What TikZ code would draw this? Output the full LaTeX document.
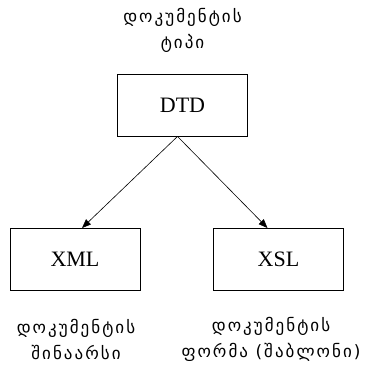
\documentclass[tikz,border=0pt]{standalone}
\usepackage{fontspec}
\setmainfont{Liberation Serif}
\newfontfamily\geofont[LetterSpace=12]{DejaVu Sans}
\usetikzlibrary{arrows.meta}
\tikzset{
  box/.style={draw, line width=0.9pt, minimum width=130pt, minimum height=62pt, inner sep=0pt, font=\fontsize{22}{22}\selectfont},
  geo/.style={align=center, inner sep=0pt, font=\geofont\fontsize{17}{26}\selectfont},
  conn/.style={line width=0.6pt, -{Triangle[length=9pt,width=7pt]}}
}
\begin{document}
\begin{tikzpicture}[x=1pt,y=-1pt]
\useasboundingbox (0,0) rectangle (372,366);
\node[box] (dtd) at (182.5,105) {DTD};
\node[box] (xml) at (75,259.5) {XML};
\node[box] (xsl) at (278.5,259.5) {XSL};
\node[geo] (t1) at (182.5,30) {დოკუმენტის\\ტიპი};
\node[geo] (t2) at (76,339.5) {დოკუმენტის\\შინაარსი};
\node[geo] (t3) at (271,339.5) {დოკუმენტის\\ფორმა (შაბლონი)};
\coordinate (apex) at ([xshift=-5pt]dtd.south);
\draw[conn] (apex) -- ([xshift=7pt]xml.north);
\draw[conn] (apex) -- ([xshift=-11pt]xsl.north);
\end{tikzpicture}
\end{document}
